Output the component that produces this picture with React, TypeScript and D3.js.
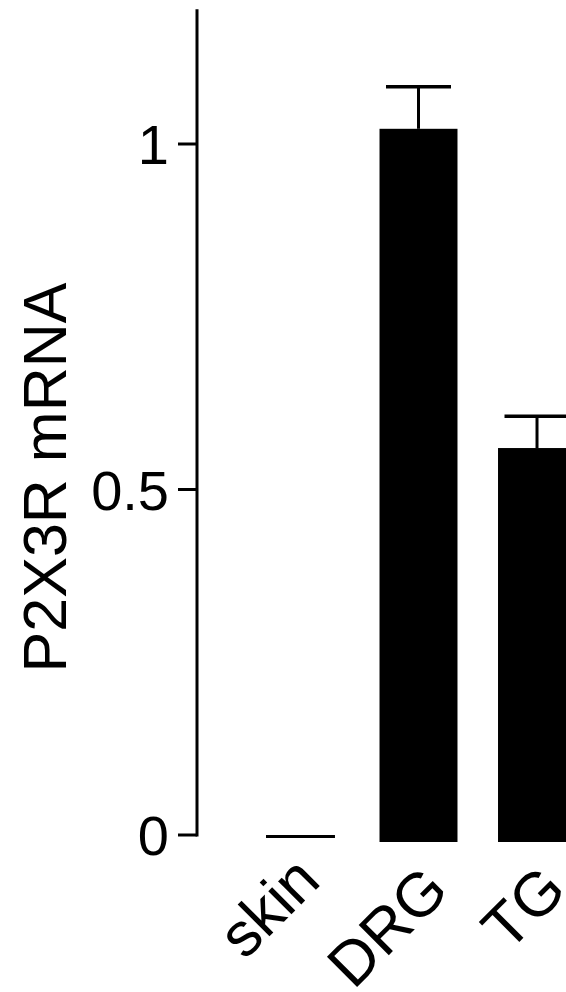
import React from "react";
import * as d3 from "d3";

// P2X3R mRNA expression, relative units
const categories = ["skin", "DRG", "TG"];
const means = [0, 1.022, 0.56];
const sems = [0, 0.061, 0.046];
const yTicks = [0, 0.5, 1];
const yTickLabels = ["0", "0.5", "1"];
const yLabel = "P2X3R mRNA";

const width = 566;
const height = 992;
const font = "'Liberation Sans', Arial, Helvetica, sans-serif";

// label placement along / across the rotated baseline
const labelAlong = -18;
const labelPerp: Record<string, number> = { skin: 50, DRG: 64, TG: 63 };

export default function App() {
  const axisX = 197;
  const yMax = 1.195;

  const y = d3.scaleLinear().domain([0, yMax]).range([835, 835 - yMax * 691]);

  const x = d3
    .scaleBand()
    .domain(categories)
    .range([261, 576])
    .paddingInner(0.342)
    .paddingOuter(0);

  const barW = x.bandwidth();
  const capW = 65;
  const base = y(0) + 7;
  const s = Math.SQRT1_2;

  const data = categories.map((c, i) => ({ c, mean: means[i], sem: sems[i] }));

  return (
    <svg
      width={width}
      height={height}
      style={{ position: "absolute", left: 0, top: 0, background: "#fff" }}
      fontFamily={font}
    >
      {/* bars */}
      {data.map((d) => {
        const cx = x(d.c)! + barW / 2;
        if (d.mean === 0) {
          return (
            <line
              key={d.c}
              x1={x(d.c)! + 5}
              x2={x(d.c)! + barW - 4}
              y1={y(0) + 1.5}
              y2={y(0) + 1.5}
              stroke="#000"
              strokeWidth={3}
            />
          );
        }
        return (
          <g key={d.c}>
            <rect
              x={x(d.c)}
              y={y(d.mean)}
              width={barW}
              height={base - y(d.mean)}
              fill="#000"
            />
            {d.sem > 0 && (
              <>
                <line
                  x1={cx}
                  x2={cx}
                  y1={y(d.mean)}
                  y2={y(d.mean + d.sem)}
                  stroke="#000"
                  strokeWidth={3}
                />
                <line
                  x1={cx - capW / 2}
                  x2={cx + capW / 2}
                  y1={y(d.mean + d.sem)}
                  y2={y(d.mean + d.sem)}
                  stroke="#000"
                  strokeWidth={3.5}
                />
              </>
            )}
          </g>
        );
      })}

      {/* y axis */}
      <line x1={axisX} x2={axisX} y1={y(yMax)} y2={y(0) + 1.5} stroke="#000" strokeWidth={3} />
      {yTicks.map((t, i) => (
        <g key={t} transform={`translate(0, ${y(t)})`}>
          <line x1={178} x2={axisX} stroke="#000" strokeWidth={3} />
          <text x={169} dy="0.36em" textAnchor="end" fontSize={56}>
            {yTickLabels[i]}
          </text>
        </g>
      ))}

      <text
        transform={`translate(66, ${y(0.5) - 12}) rotate(-90)`}
        textAnchor="middle"
        fontSize={61}
      >
        {yLabel}
      </text>

      {/* category labels */}
      {categories.map((c) => {
        const cx = x(c)! + barW / 2;
        const p = labelPerp[c];
        const ax = cx + (labelAlong + p) * s;
        const ay = y(0) + (p - labelAlong) * s;
        return (
          <text
            key={c}
            transform={`translate(${ax}, ${ay}) rotate(-45)`}
            textAnchor="end"
            fontSize={62}
          >
            {c}
          </text>
        );
      })}
    </svg>
  );
}
